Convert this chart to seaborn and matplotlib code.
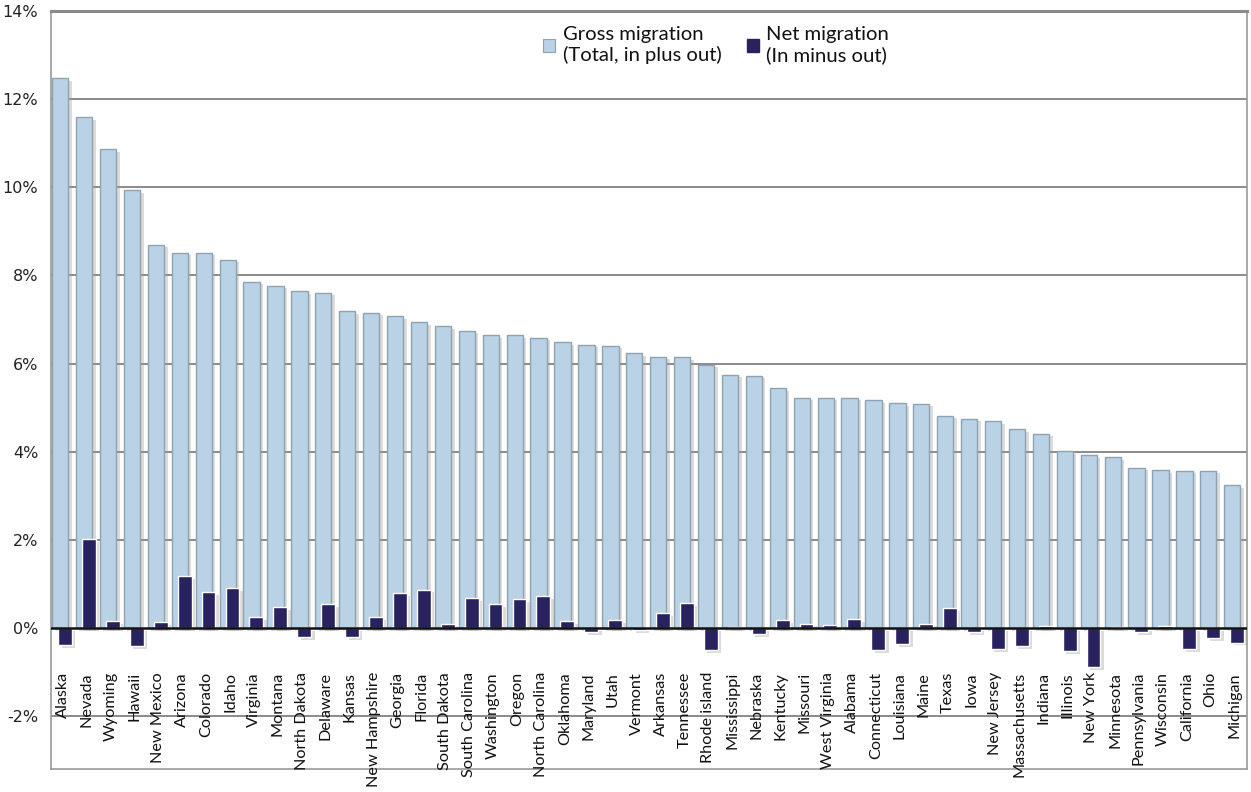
import numpy as np
import pandas as pd
import matplotlib
matplotlib.use("Agg")
import matplotlib.pyplot as plt
import matplotlib.patheffects as pe
from matplotlib.patches import Patch
import seaborn as sns

states = [
    "Alaska", "Nevada", "Wyoming", "Hawaii", "New Mexico", "Arizona", "Colorado",
    "Idaho", "Virginia", "Montana", "North Dakota", "Delaware", "Kansas",
    "New Hampshire", "Georgia", "Florida", "South Dakota", "South Carolina",
    "Washington", "Oregon", "North Carolina", "Oklahoma", "Maryland", "Utah",
    "Vermont", "Arkansas", "Tennessee", "Rhode island", "Mississippi", "Nebraska",
    "Kentucky", "Missouri", "West Virginia", "Alabama", "Connecticut", "Louisiana",
    "Maine", "Texas", "Iowa", "New Jersey", "Massachusetts", "Indiana", "Illinois",
    "New York", "Minnesota", "Pennsylvania", "Wisconsin", "California", "Ohio",
    "Michigan",
]

# Gross migration: moves in plus moves out, % of population
gross = [
    12.48, 11.60, 10.86, 9.93, 8.70, 8.52, 8.52, 8.36, 7.86, 7.77, 7.64, 7.61,
    7.20, 7.16, 7.07, 6.95, 6.86, 6.75, 6.64, 6.64, 6.59, 6.48, 6.43, 6.41,
    6.23, 6.16, 6.14, 5.98, 5.75, 5.73, 5.45, 5.23, 5.23, 5.23, 5.18, 5.11,
    5.09, 4.82, 4.75, 4.70, 4.52, 4.41, 4.02, 3.93, 3.88, 3.64, 3.59, 3.57,
    3.57, 3.25,
]

# Net migration: moves in minus moves out, % of population
net = [
    -0.39, 2.02, 0.15, -0.41, 0.13, 1.17, 0.82, 0.90, 0.24, 0.48, -0.21, 0.55,
    -0.20, 0.24, 0.79, 0.87, 0.10, 0.67, 0.55, 0.65, 0.72, 0.15, -0.10, 0.18,
    -0.05, 0.33, 0.57, -0.50, 0.03, -0.14, 0.18, 0.10, 0.07, 0.20, -0.50, -0.36,
    0.10, 0.45, -0.09, -0.48, -0.41, 0.04, -0.52, -0.88, 0.02, -0.09, 0.05,
    -0.47, -0.23, -0.33,
]

yticks = [-2, 0, 2, 4, 6, 8, 10, 12, 14]
ytick_labels = [f"{t}%" for t in yticks]
legend_labels = ["Gross migration\n(Total, in plus out)", "Net migration\n(In minus out)"]

gross_color = "#B9D2E5"
net_color = "#28235F"

pos = np.arange(len(states))
df = pd.DataFrame({"state": states, "gross": gross, "net": net, "pos": pos})

sns.set_theme(style="white")
plt.rcParams["font.family"] = ["DejaVu Sans"]

fig = plt.figure(figsize=(12.51, 7.92), dpi=100)
ax = fig.add_axes([0.0405, 0.029, 0.956, 0.957])

shadow = [pe.SimplePatchShadow(offset=(2.5, -2), shadow_rgbFace="#9a9a9a", alpha=0.35),
          pe.Normal()]

sns.barplot(x=df["pos"] - 0.1, y=df["gross"], native_scale=True, width=0.68,
            color=gross_color, saturation=1, edgecolor="#8fa2b0", linewidth=1.0,
            ax=ax, zorder=2)
sns.barplot(x=df["pos"] + 0.1, y=df["net"], native_scale=True, width=0.58,
            color=net_color, saturation=1, edgecolor="white", linewidth=1.0,
            ax=ax, zorder=3)
for p in ax.patches:
    p.set_path_effects(shadow)

ax.set_xlim(-0.5, len(states) - 0.5)
ax.set_ylim(-3.2, 14)
ax.set_yticks(yticks)
ax.set_yticklabels(ytick_labels, fontsize=11.5, color="#222222")
ax.set_xticks([])
ax.set_xlabel("")
ax.set_ylabel("")
ax.tick_params(axis="y", length=0, pad=9)

for t in yticks:
    if t != 0:
        ax.axhline(t, color="#8a8a8a", lw=1.4, zorder=1)
ax.axhline(0, color="#111111", lw=1.8, zorder=5)

for side in ["left", "right", "bottom", "top"]:
    ax.spines[side].set_color("#9a9a9a")
    ax.spines[side].set_linewidth(1.2)
ax.spines["top"].set_linewidth(2.2)
ax.spines["top"].set_color("#8a8a8a")

for x, name in zip(pos, states):
    ax.text(x, -1.0, name, rotation=90, ha="center", va="top",
            fontsize=11.7, family=["Lato", "DejaVu Sans"], color="#111111", zorder=6)

handles = [Patch(facecolor=gross_color, edgecolor="#8fa2b0", lw=0.8),
           Patch(facecolor=net_color, edgecolor=net_color)]
leg = ax.legend(handles, legend_labels, ncol=2, frameon=False, loc="upper left",
                bbox_to_anchor=(525 / 1251, 1 - 8 / 792), bbox_transform=fig.transFigure,
                prop={"family": ["Lato", "DejaVu Sans"], "size": 14.6},
                handlelength=0.6, handleheight=0.6, handletextpad=0.35,
                columnspacing=1.25, labelspacing=0.2)
for txt in leg.get_texts():
    txt.set_color("#111111")

fig.savefig("out.png", dpi=100)
